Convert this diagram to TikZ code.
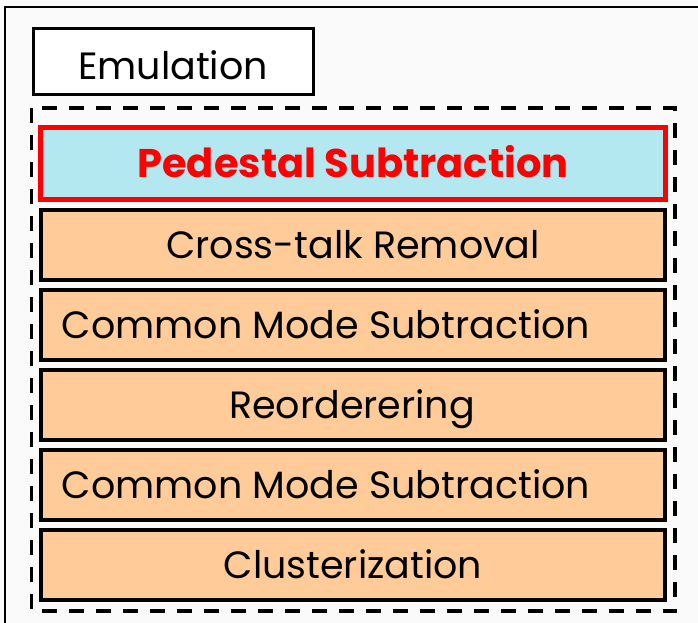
\documentclass[tikz,border=0pt]{standalone}
\usepackage{fontspec}
\setmainfont{Poppins}
\definecolor{bgc}{HTML}{FAFAFA}
\definecolor{cyanfill}{HTML}{B3E8F0}
\definecolor{orangefill}{HTML}{FFCC99}
\definecolor{redline}{HTML}{FF0000}
\begin{document}
\begin{tikzpicture}[x=1pt,y=-1pt,
  rowbox/.style={draw=black,line width=4pt,fill=orangefill,minimum width=624pt,minimum height=70pt,inner sep=0pt},
  pedbox/.style={draw=redline,line width=5pt,fill=cyanfill},
  rowtext/.style={font=\fontsize{38}{42}\selectfont,inner sep=0pt,anchor=base},
  dashbox/.style={draw=black,line width=3.5pt,dash pattern=on 15pt off 12pt}]
\useasboundingbox (0,0) rectangle (698,623);
\fill[bgc] (0,0) rectangle (698,623);
\draw[line width=2pt] (5,630) -- (5,7) -- (705,7);
% Emulation
\node[draw=black,line width=3.5pt,fill=white,minimum width=280pt,minimum height=66pt,inner sep=0pt] (emu) at (173.5,61.5) {};
\node[rowtext] (emut) at (173,80) {Emulation};
% dashed group
\coordinate (dtl) at (31.5,108);
\coordinate (dbr) at (675,611);
\draw[dashbox] (dtl) rectangle (dbr);
% pedestal
\node[pedbox,minimum width=625pt,minimum height=72pt,inner sep=0pt] (ped) at (353,163.5) {};
\node[rowtext,text=redline,font=\fontsize{40}{44}\selectfont\bfseries] (pedt) at (353,177) {Pedestal Subtraction};
% rows
\node[rowbox] (r1) at (353,244.5) {};
\node[rowbox] (r2) at (353,324.5) {};
\node[rowbox] (r3) at (353,404.5) {};
\node[rowbox] (r4) at (353,484.5) {};
\node[rowbox] (r5) at (353,565) {};
\node[rowtext] (t1) at (353,258) {Cross-talk Removal};
\node[rowtext] (t2) at (326,338) {Common Mode Subtraction};
\node[rowtext] (t3) at (352,418) {Reorderering};
\node[rowtext] (t4) at (326,498) {Common Mode Subtraction};
\node[rowtext] (t5) at (353,578) {Clusterization};
\end{tikzpicture}
\end{document}
